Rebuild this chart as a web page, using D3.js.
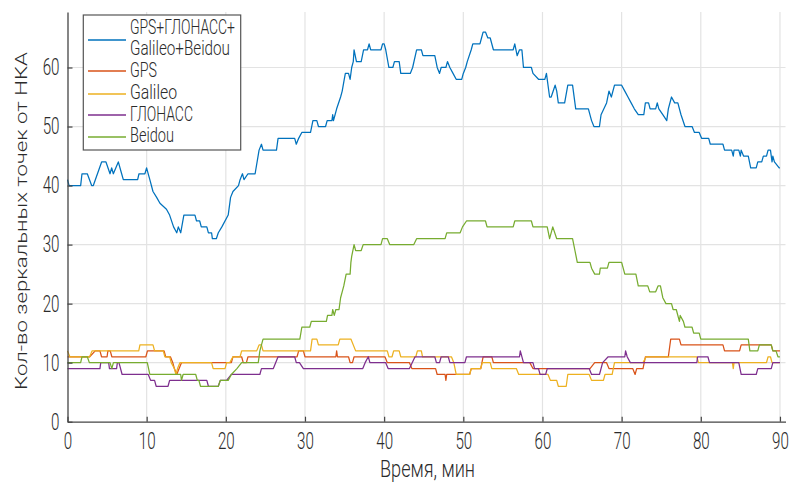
<!DOCTYPE html>
<html>
<head>
<meta charset="utf-8">
<script src="https://cdn.jsdelivr.net/npm/d3@7"></script>
<style>
  body { margin: 0; background: #fff; }
  text { font-family: Roboto, "Open Sans", sans-serif; font-weight: 300; fill: #2b2b2b; }
</style>
</head>
<body>
<svg id="chart" width="794" height="482"></svg>
<script>
// Time axis (minutes) and count axis ticks
const xTicks = [0, 10, 20, 30, 40, 50, 60, 70, 80, 90];
const yTicks = [0, 10, 20, 30, 40, 50, 60];

const seriesNames = [["GPS+ГЛОНАСС+", "Galileo+Beidou"], ["GPS"], ["Galileo"], ["ГЛОНАСС"], ["Beidou"]];
const seriesColors = ["#0072BD", "#D95319", "#EDB120", "#7E2F8E", "#77AC30"];

// Number of specular reflection points per constellation: [time, count]
const combined = [[0,41],[0.2,40],[1.66,40],[1.83,42],[2.5,42],[3.05,40],[3.26,40],[4.31,44],[4.86,44],[5.37,42],[5.58,43],[5.79,42],[6.42,44],[6.84,42],[7.05,41],[8.86,41],[9.03,42],[9.78,42],[9.99,43],[10.4,41],[10.8,39],[11.26,38],[11.68,37],[12.5,36],[12.9,35],[13.4,33],[13.8,32],[14.0,33],[14.3,32],[14.7,35],[16.1,35],[16.3,34],[16.7,34],[16.9,33],[17.6,33],[17.8,32],[18.2,32],[18.3,31],[18.8,31],[19.05,32],[19.5,33],[20.3,35],[20.6,38],[20.9,39],[21.6,40],[21.8,41],[22.1,42],[22.3,41],[22.8,42],[23.7,42],[24.2,46],[24.5,47],[24.7,46],[26.4,46],[26.6,48],[28.7,48],[28.9,47],[29.2,48],[29.6,49],[30.7,49],[31.0,51],[31.5,51],[31.7,50],[32.6,50],[32.8,51],[33.4,51],[33.5,52],[33.6,51],[33.8,52],[34.0,53],[34.5,55],[34.7,56],[34.96,58],[35.1,59],[35.5,59],[35.7,58],[35.9,60],[36.1,61],[36.2,63],[36.5,61],[37.1,61],[37.4,63],[37.9,63],[38.1,64],[38.3,63],[39.6,63],[39.8,64],[40.0,64],[40.2,63],[40.6,60],[41.1,60],[41.3,61],[41.9,61],[42.1,59],[43.3,59],[43.6,60],[44.1,63],[44.7,63],[44.9,62],[46.4,62],[46.7,60],[47.0,59],[47.2,60],[47.8,60],[48.0,61],[48.3,60],[48.7,59],[49.1,58],[49.8,58],[50.0,59],[50.3,60],[50.5,61],[51.0,63],[51.2,64],[52.1,64],[52.3,65],[52.5,66],[52.8,66],[53.1,65],[53.4,65],[53.8,63],[56.3,63],[56.5,64],[56.8,62],[57.1,63],[57.4,63],[57.6,60],[58.6,60],[58.8,59],[59.5,58],[60.3,58],[60.5,59],[60.9,55],[61.1,55],[61.6,57],[61.8,56],[62.0,54],[62.8,54],[63.2,57],[63.8,57],[64.2,53],[65.8,53],[66.2,51],[66.5,50],[67.2,50],[67.4,52],[68.1,54],[68.4,56],[68.7,55],[69.1,57],[70.0,57],[70.4,56],[70.8,55],[71.2,54],[71.6,53],[72.1,52],[72.8,52],[73.0,54],[73.4,54],[73.6,53],[74.3,53],[74.5,54],[74.7,53],[75.2,52],[75.7,51],[75.9,53],[76.3,55],[76.7,54],[77.1,54],[77.5,52],[78.0,50],[78.9,50],[79.2,49],[79.8,49],[80.1,48],[81.0,48],[81.2,47],[82.8,47],[83.0,46],[83.9,46],[84.1,45],[84.2,46],[84.8,46],[85.0,45],[85.1,46],[85.4,45],[86.0,45],[86.3,43],[87.0,43],[87.2,44],[87.7,44],[87.9,45],[88.3,45],[88.5,46],[88.8,46],[89.0,44],[89.1,45],[89.3,44],[89.9,43],[90,43]];

const gps = [[0,11],[2.8,11],[3.5,12],[4.1,12],[4.3,11],[5.0,11],[5.1,12],[5.4,12],[5.6,11],[9.9,11],[10.1,12],[12.2,12],[12.4,11],[13.0,11],[13.3,10],[13.5,9],[13.8,8],[14.1,9],[14.4,10],[20.7,10],[20.9,11],[22.0,11],[22.2,10],[22.6,10],[22.8,11],[29.0,11],[29.2,12],[29.8,12],[30.0,11],[33.9,11],[34.0,12],[34.1,11],[35.5,11],[35.7,10],[36.0,10],[36.2,11],[40.1,11],[40.4,10],[43.2,10],[43.5,9],[46.5,9],[46.7,8],[47.7,8],[47.8,7],[47.9,8],[50.8,8],[51.0,9],[52.2,9],[52.5,11],[53.6,11],[53.8,10],[58.4,10],[58.8,9],[66.0,9],[66.6,10],[68.1,10],[68.4,9],[71.4,9],[71.7,8],[71.9,9],[72.7,9],[73.0,11],[75.9,11],[76.2,14],[77.3,14],[77.5,13],[82.8,13],[83.0,12],[84.9,12],[85.1,13],[88.9,13],[89.1,12],[90,12]];

const galileo = [[0,12],[0.3,11],[2.8,11],[3.1,12],[9.0,12],[9.15,13],[10.8,13],[11.0,12],[12.1,12],[12.3,11],[12.9,11],[13.1,10],[13.5,9],[13.7,8],[13.9,9],[14.2,10],[18.2,10],[18.4,9],[19.9,9],[20.1,10],[20.5,10],[20.9,11],[21.8,11],[22.0,12],[23.9,12],[24.2,13],[24.5,13],[24.7,12],[30.7,12],[30.9,14],[31.5,14],[31.7,13],[34.2,13],[34.4,14],[35.8,14],[36.4,12],[40.4,12],[40.6,11],[41.0,11],[41.2,12],[41.9,12],[42.1,11],[44.0,11],[44.2,12],[44.7,12],[44.85,11],[48.5,11],[48.8,10],[49.1,8],[50.8,8],[51.0,9],[52.2,9],[52.4,10],[53.4,10],[53.6,9],[56.7,9],[57.0,8],[60.7,8],[61.0,7],[61.8,7],[62.0,6],[63.0,6],[63.2,8],[65.9,8],[66.2,7],[67.7,7],[67.9,8],[68.8,8],[69.1,10],[72.7,10],[73.1,11],[79.5,11],[79.7,10],[84.0,10],[84.1,9],[84.2,10],[88.3,10],[88.5,11],[88.8,11],[89.0,10],[90,10]];

const glonass = [[0,9],[4.1,9],[4.2,10],[5.2,10],[5.3,9],[6.2,9],[6.3,10],[6.5,10],[6.9,8],[10.2,8],[10.5,7],[11.0,7],[11.2,6],[12.7,6],[12.9,7],[17.6,7],[17.8,6],[19.05,6],[19.3,7],[20.1,7],[20.7,8],[24.3,8],[24.5,9],[26.0,9],[26.6,11],[28.7,11],[28.9,10],[29.3,10],[29.8,9],[37.3,9],[37.6,10],[38.0,11],[38.2,10],[40.2,10],[40.5,9],[43.2,9],[43.9,11],[46.4,11],[46.6,10],[47.0,10],[47.2,11],[48.1,11],[48.3,10],[50.2,10],[50.4,11],[57.1,11],[57.2,12],[57.6,10],[58.8,10],[59.0,9],[59.5,9],[59.7,8],[60.4,8],[60.6,9],[65.9,9],[66.2,8],[67.2,8],[67.6,10],[68.3,11],[70.4,11],[70.5,12],[70.7,11],[71.1,10],[79.5,10],[79.6,11],[80.9,11],[81.1,10],[84.8,10],[85.1,8],[87.0,8],[87.2,9],[88.9,9],[89.1,10],[90,10]];

const beidou = [[0,10],[1.66,10],[1.83,11],[2.5,11],[2.76,10],[5.37,10],[5.6,9],[5.8,10],[10.08,10],[10.4,8],[14.3,8],[14.4,7],[14.6,8],[16.2,8],[16.4,7],[16.6,7],[16.8,6],[19.05,6],[19.3,7],[20.3,7],[20.7,8],[21.4,9],[22.0,10],[24.1,10],[24.3,12],[24.7,14],[29.35,14],[29.6,16],[30.6,16],[30.8,17],[32.7,17],[32.85,18],[33.4,18],[33.5,19],[33.7,18],[33.9,19],[34.3,19],[34.5,21],[34.7,22],[34.9,23],[35.2,25],[35.7,25],[35.8,27],[35.9,28],[36.2,30],[36.4,29],[37.1,29],[37.35,30],[39.6,30],[39.8,31],[40.4,31],[40.7,30],[43.75,30],[44.1,31],[47.7,31],[47.9,32],[49.6,32],[49.9,33],[50.4,34],[52.8,34],[53.0,33],[56.3,33],[56.5,34],[58.6,34],[58.8,33],[60.6,33],[60.9,31],[61.3,33],[61.8,31],[63.8,31],[64.1,29],[64.4,27],[66.0,27],[66.2,26],[66.6,25],[67.2,25],[67.3,26],[68.2,26],[68.4,27],[70.0,27],[70.4,25],[71.8,25],[72.1,23],[73.3,23],[73.55,22],[74.3,22],[74.6,23],[74.9,23],[75.2,21],[75.6,20],[76.3,20],[76.5,19],[76.9,19],[77.3,17],[77.4,18],[77.8,17],[78.0,16],[78.9,16],[79.1,15],[79.8,15],[80.0,14],[86.0,14],[86.2,12],[87.2,12],[87.4,13],[88.9,13],[89.1,12],[89.5,12],[89.75,11],[90,11]];

const series = [combined, gps, galileo, glonass, beidou];

const svg = d3.select("#chart");
const x = d3.scaleLinear().domain([0, 90.7]).range([67.5, 785.5]);
const y = d3.scaleLinear().domain([0, 69.4]).range([421.7, 12]);

// Grid
const grid = svg.append("g").attr("stroke", "#e3e3e3").attr("stroke-width", 1.2);
grid.selectAll("line.gx").data(xTicks.slice(1)).join("line")
  .attr("x1", d => x(d)).attr("x2", d => x(d))
  .attr("y1", y.range()[0]).attr("y2", y.range()[1]);
grid.selectAll("line.gy").data(yTicks.slice(1)).join("line")
  .attr("x1", x.range()[0]).attr("x2", x.range()[1])
  .attr("y1", d => y(d)).attr("y2", d => y(d));

// Data lines
const line = d3.line().x(d => x(d[0])).y(d => y(d[1]));
svg.append("g").selectAll("path").data(series).join("path")
  .attr("d", line)
  .attr("fill", "none")
  .attr("stroke", (d, i) => seriesColors[i])
  .attr("stroke-width", 1.25)
  .attr("stroke-linejoin", "round");

// Axes (narrow digits: horizontal squeeze of the tick labels)
const tickSqueeze = 0.66;
const xAxis = svg.append("g").attr("transform", `translate(0,${y.range()[0]})`)
  .call(d3.axisBottom(x).tickValues(xTicks).tickSizeInner(-5).tickSizeOuter(0).tickPadding(11));
const yAxis = svg.append("g").attr("transform", `translate(${x.range()[0]},0)`)
  .call(d3.axisLeft(y).tickValues(yTicks).tickSizeInner(-5).tickSizeOuter(0).tickPadding(8));
[xAxis, yAxis].forEach(a => {
  a.select(".domain").attr("stroke", "#444").attr("stroke-width", 1.3);
  a.selectAll(".tick line").attr("stroke", "#444").attr("stroke-width", 1.2);
  a.selectAll(".tick text")
    .attr("font-size", 23)
    .style("font-family", null);
});
xAxis.selectAll(".tick text").attr("transform", `scale(${tickSqueeze},1)`);
yAxis.selectAll(".tick text")
  .attr("x", -8 / tickSqueeze)
  .attr("transform", `scale(${tickSqueeze},1)`);

// Axis titles
svg.append("text")
  .attr("x", 427.5).attr("y", 476.5)
  .attr("text-anchor", "middle").attr("font-size", 23)
  .attr("textLength", 95).attr("lengthAdjust", "spacingAndGlyphs")
  .text("Время, мин");

svg.append("text")
  .attr("transform", "translate(27,221) rotate(-90)")
  .attr("text-anchor", "middle").attr("font-size", 16)
  .attr("textLength", 338).attr("lengthAdjust", "spacingAndGlyphs")
  .text("Кол-во зеркальных точек от НКА");

// Legend
const legend = svg.append("g");
legend.append("rect")
  .attr("x", 83.3).attr("y", 15).attr("width", 157.4).attr("height", 135)
  .attr("fill", "#fff").attr("stroke", "#555").attr("stroke-width", 1.2);
const sampleY = [40, 71, 94, 115, 137];
const labelRows = [[34, 55], [77], [99], [120.7], [141.7]];
const labelWidths = [[105, 100], [27], [47], [63], [44]];
seriesNames.forEach((names, i) => {
  legend.append("line")
    .attr("x1", 88).attr("x2", 126).attr("y1", sampleY[i]).attr("y2", sampleY[i])
    .attr("stroke", seriesColors[i]).attr("stroke-width", 1.3);
  names.forEach((n, j) => {
    legend.append("text")
      .attr("x", 130).attr("y", labelRows[i][j])
      .attr("font-size", 19.5)
      .attr("textLength", labelWidths[i][j]).attr("lengthAdjust", "spacingAndGlyphs")
      .text(n);
  });
});
</script>
</body>
</html>
